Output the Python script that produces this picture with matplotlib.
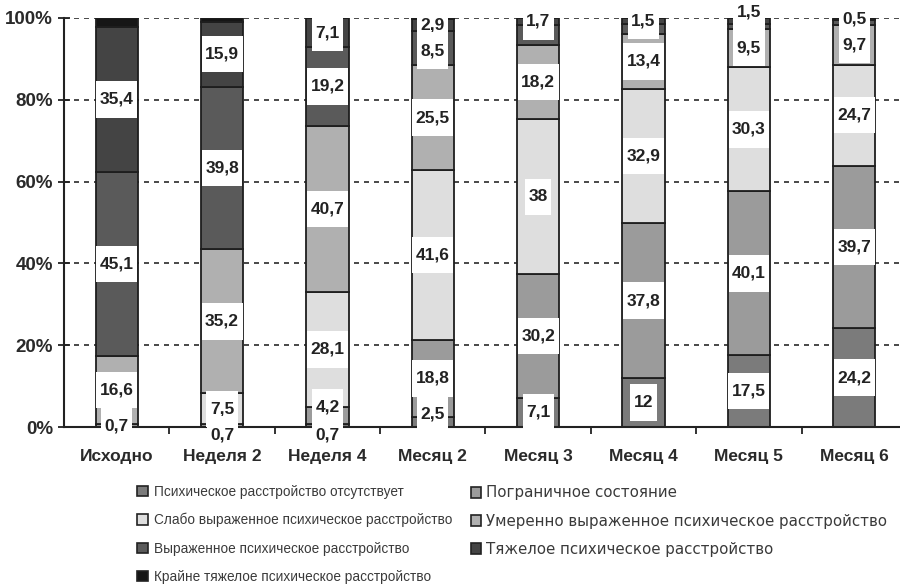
import numpy as np
import matplotlib.pyplot as plt
from matplotlib.patches import Patch
from matplotlib.path import Path

plt.rcParams['font.family'] = ['Liberation Sans', 'DejaVu Sans']

# --- Data (percent of patients, stacked bottom -> top) ---
categories = ['Исходно', 'Неделя 2', 'Неделя 4', 'Месяц 2',
              'Месяц 3', 'Месяц 4', 'Месяц 5', 'Месяц 6']

series_names = [
    'Психическое расстройство отсутствует',
    'Пограничное состояние',
    'Слабо выраженное психическое расстройство',
    'Умеренно выраженное психическое расстройство',
    'Выраженное психическое расстройство',
    'Тяжелое психическое расстройство',
    'Крайне тяжелое психическое расстройство',
]

absent = [0, 0, 0.7, 2.5, 7.1, 12, 17.5, 24.2]
borderline = [0.7, 0.7, 4.2, 18.8, 30.2, 37.8, 40.1, 39.7]
mild = [0, 7.5, 28.1, 41.6, 38, 32.9, 30.3, 24.7]
moderate = [16.6, 35.2, 40.7, 25.5, 18.2, 13.4, 9.5, 9.7]
marked = [45.1, 39.8, 19.2, 8.5, 4.8, 2.4, 1.1, 1.2]
severe = [35.4, 15.9, 7.1, 2.9, 1.7, 1.5, 1.5, 0.5]
extreme = [2.2, 0.9, 0, 0.2, 0, 0, 0, 0]

series = [absent, borderline, mild, moderate, marked, severe, extreme]
colors = ['#7b7b7b', '#9b9b9b', '#dedede', '#b0b0b0', '#5a5a5a', '#444444', '#161616']

# values that carry no visible label in the source chart
unlabeled = {(4, 4), (4, 5), (4, 6), (4, 7)}
# a few labels were nudged off their segment in the source
label_nudge = {(1, 1): -2.2, (0, 2): -2.3, (1, 2): 2.0, (0, 3): 2.0,
               (4, 3): -0.6, (5, 6): 2.3}


def label_box(x0, y0, width, height, mutation_size):
    # white box of fixed height, a little wider than the text
    px = 0.2 * mutation_size
    half = 1.05 * mutation_size
    yc = y0 + height / 2
    x0, x1 = x0 - px, x0 + width + px
    y0, y1 = yc - half, yc + half
    return Path([(x0, y0), (x1, y0), (x1, y1), (x0, y1), (x0, y0)], closed=True)


fig = plt.figure(figsize=(9, 5.86), dpi=100)
ax = fig.add_axes([64 / 900, 159 / 586, 843 / 900, 409 / 586])

x = np.arange(len(categories))
bottom = np.zeros(len(categories))
for i, vals in enumerate(series):
    vals = np.array(vals, dtype=float)
    ax.bar(x, vals, bottom=bottom, width=0.4, color=colors[i],
           edgecolor='#1e1e1e', linewidth=1.3, zorder=2)
    if i < 6:
        for j, v in enumerate(vals):
            if v <= 0 or (i, j) in unlabeled:
                continue
            nudge = label_nudge.get((i, j), 0)
            y = min(bottom[j] + v / 2, 100) + nudge
            # lower segments' labels sit over the upper ones
            z = 4 + (6 - i) * 0.01
            ax.text(j, y, f'{v:g}'.replace('.', ','), ha='center', va='center',
                    fontsize=12.5, fontweight='bold', color='#222222',
                    zorder=z, clip_on=False,
                    bbox=dict(boxstyle=label_box, facecolor='white', edgecolor='none'))
    bottom += vals

ax.set_xlim(-0.5, len(categories) - 0.5)
ax.set_ylim(0, 100)
ax.set_yticks(np.arange(0, 101, 20), [f'{v}%' for v in range(0, 101, 20)])
ax.set_xticks(x, categories)
ax.set_xticks(x[:-1] + 0.5, minor=True)

ax.yaxis.grid(True, linestyle=(0, (3, 3)), color='#2a2a2a', linewidth=1.2)
ax.set_axisbelow(True)
ax.xaxis.set_zorder(5)

for s in ['top', 'right']:
    ax.spines[s].set_visible(False)
for s in ['left', 'bottom']:
    ax.spines[s].set_linewidth(1.5)
    ax.spines[s].set_color('#222222')
    ax.spines[s].set_zorder(3)

ax.tick_params(axis='x', which='major', length=0, pad=16)
ax.tick_params(axis='x', which='minor', length=5, width=1.3, direction='out', color='#222222')
ax.tick_params(axis='y', length=8, width=1.3, direction='inout', pad=4, color='#222222')
for lab in ax.get_xticklabels():
    lab.set_fontsize(12.5)
    lab.set_fontweight('bold')
    lab.set_color('#2a2a2a')
for lab in ax.get_yticklabels():
    lab.set_fontsize(13.5)
    lab.set_fontweight('bold')
    lab.set_color('#2a2a2a')

# legend: two separate columns (rows read left to right)
handles = [Patch(facecolor=c, edgecolor='#222222', linewidth=1.2) for c in colors]
left_col = [0, 2, 4, 6]
right_col = [1, 3, 5]
leg1 = fig.legend([handles[k] for k in left_col], [series_names[k] for k in left_col],
                  loc='upper left', bbox_to_anchor=(130 / 900, 1 - 478 / 586),
                  frameon=False, prop={'family': 'Liberation Sans', 'size': 9.8},
                  handlelength=0.8, handleheight=0.8, handletextpad=0.5,
                  labelspacing=1.04, borderpad=0, labelcolor='#3a3a3a')
leg2 = fig.legend([handles[k] for k in right_col], [series_names[k] for k in right_col],
                  loc='upper left', bbox_to_anchor=(463 / 900, 1 - 478 / 586),
                  frameon=False, prop={'family': 'DejaVu Sans', 'size': 10.8},
                  handlelength=0.72, handleheight=0.72, handletextpad=0.3,
                  labelspacing=0.88, borderpad=0, labelcolor='#3a3a3a')

fig.savefig('out.png', dpi=100)
